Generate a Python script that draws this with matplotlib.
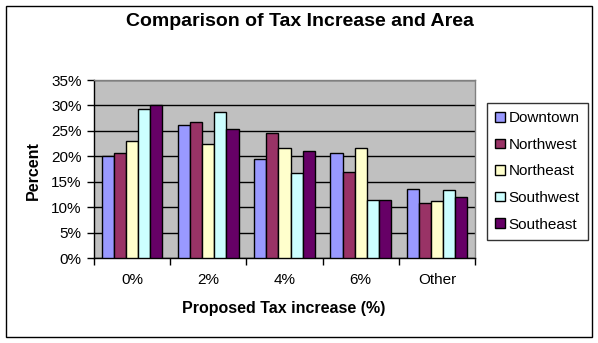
import matplotlib
matplotlib.use("Agg")
import matplotlib.pyplot as plt
import numpy as np
from matplotlib.patches import Rectangle

plt.rcParams['font.family'] = ['Liberation Sans', 'DejaVu Sans']

categories = ["0%", "2%", "4%", "6%", "Other"]
series_names = ["Downtown", "Northwest", "Northeast", "Southwest", "Southeast"]
downtown = [20.0, 26.1, 19.4, 20.6, 13.5]
northwest = [20.6, 26.8, 24.5, 16.9, 10.8]
northeast = [23.0, 22.4, 21.6, 21.6, 11.2]
southwest = [29.3, 28.7, 16.7, 11.4, 13.3]
southeast = [30.1, 25.3, 21.0, 11.4, 11.9]
series_values = [downtown, northwest, northeast, southwest, southeast]
colors = ["#9999FF", "#993366", "#FFFFCC", "#CCFFFF", "#660066"]
y_ticks = [0, 5, 10, 15, 20, 25, 30, 35]

fig = plt.figure(figsize=(5.98, 3.43), dpi=100)
# outer chart border
fig.patches.append(Rectangle((6/598, 6/343), 586/598, 331/343, transform=fig.transFigure,
                             fill=False, edgecolor='black', linewidth=1.0))

ax = fig.add_axes([94/598, 1 - 258/343, 381/598, 178/343])
ax.set_facecolor('#C0C0C0')

n = len(series_names)
w = 0.159
x = np.arange(len(categories))
for i, (name, vals, c) in enumerate(zip(series_names, series_values, colors)):
    offs = (i - (n - 1) / 2) * w
    ax.bar(x + offs, vals, width=w, color=c, edgecolor='black', linewidth=1.0,
           label=name, zorder=3)

ax.set_xlim(-0.5, len(categories) - 0.5)
ax.set_ylim(0, 35)
ax.set_yticks(y_ticks)
ax.set_yticklabels([f"{t}%" for t in y_ticks], fontsize=11)
ax.yaxis.grid(True, color='black', linewidth=1.0, zorder=1)
ax.set_axisbelow(True)

ax.set_xticks(x)
ax.set_xticklabels(categories, fontsize=11)
ax.tick_params(axis='x', length=0, pad=11)
ax.set_xticks(np.arange(-0.5, len(categories)), minor=True)
ax.tick_params(axis='x', which='minor', length=5, direction='out', width=1)
ax.tick_params(axis='y', length=5, direction='out', width=1, pad=4)

for s in ['top', 'right']:
    ax.spines[s].set_color('#808080')
    ax.spines[s].set_linewidth(1.0)
for s in ['left', 'bottom']:
    ax.spines[s].set_color('black')
    ax.spines[s].set_linewidth(1.0)

fig.text(33/598, 1 - 171/343, "Percent", rotation=90, ha='center', va='center',
         fontsize=11.5, fontweight='bold')
fig.text(284/598, 1 - 308/343, "Proposed Tax increase (%)", ha='center', va='center',
         fontsize=11.5, fontweight='bold')

fig.text(300/598, 1 - 21/343, "Comparison of Tax Increase and Area", ha='center', va='center',
         fontsize=14, fontweight='bold')

leg = fig.legend(loc='upper left', bbox_to_anchor=(487/598, 1 - 103/343),
                 fontsize=11, frameon=True, fancybox=False, edgecolor='black',
                 handlelength=0.6, handleheight=0.6, handletextpad=0.25,
                 labelspacing=0.82, borderpad=0.55, borderaxespad=0)
leg.get_frame().set_linewidth(1.0)

fig.savefig("out.png", dpi=100)
